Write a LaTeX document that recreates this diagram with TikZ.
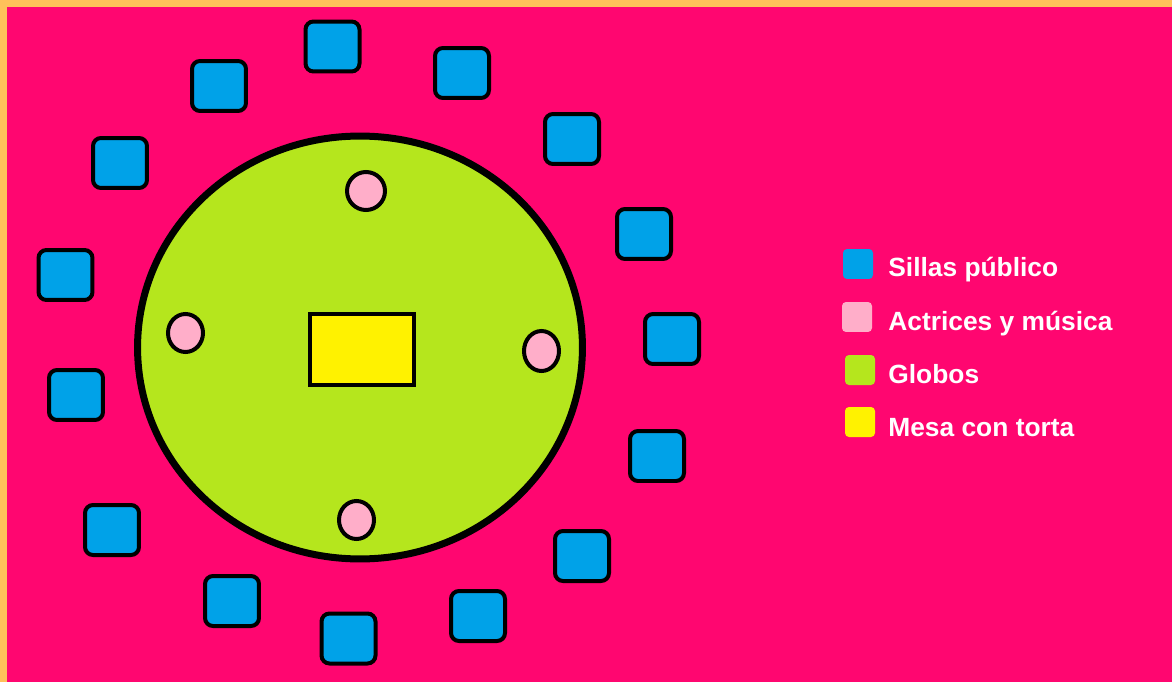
\documentclass[tikz,border=0pt]{standalone}
\usepackage{fontspec}
\setmainfont{Liberation Sans}
\usetikzlibrary{shapes.geometric}
\definecolor{FrameOrange}{RGB}{255,192,90}
\definecolor{PartyPink}{RGB}{255,6,112}
\definecolor{ChairBlue}{RGB}{0,162,232}
\definecolor{ActorPink}{RGB}{255,174,201}
\definecolor{BalloonGreen}{RGB}{181,230,29}
\definecolor{CakeYellow}{RGB}{255,242,0}
\tikzset{
  chair/.style={draw=black,fill=ChairBlue,line width=0.08cm,rounded corners=0.16cm,
    minimum width=1.08cm,minimum height=1.0cm,inner sep=0pt},
  actor/.style={ellipse,draw=black,fill=ActorPink,line width=0.08cm,
    inner sep=0pt},
  swatch/.style={rounded corners=0.08cm,minimum width=0.6cm,minimum height=0.6cm,
    inner sep=0pt},
  legendtext/.style={anchor=base west,text=white,inner sep=0pt,
    font=\fontsize{15}{18}\selectfont\bfseries}
}

\begin{document}
\begin{tikzpicture}[x=0.02cm,y=-0.02cm]

% Background and frame
\fill[FrameOrange] (0,0) rectangle (1172,682);
\fill[PartyPink] (7,7) rectangle (1172,682);
\useasboundingbox (0,0) rectangle (1172,682);

% Balloons area
\node[
  ellipse,
  draw=black,
  fill=BalloonGreen,
  line width=0.14cm,
  minimum width=8.9cm,
  minimum height=8.46cm,
  inner sep=0pt
] (globos) at (360,347.5) {};

% Cake table
\node[
  draw=black,
  fill=CakeYellow,
  line width=0.09cm,
  minimum width=2.08cm,
  minimum height=1.42cm,
  inner sep=0pt
] (mesa) at (362,349.5) {};

% Actresses and music
\foreach \x/\y/\w/\h [count=\i] in {366/191/0.76cm/0.76cm,185.5/333/0.7cm/0.76cm,
  541.5/351/0.7cm/0.8cm,356.5/520/0.7cm/0.76cm}{
  \node[actor,minimum width=\w,minimum height=\h] (actriz\i) at (\x,\y) {};
}

% Audience chairs
\foreach \x/\y [count=\i] in {332.5/46.5,219/86,462/73,120/163,572/139,644/234,
  65.5/275,672/339,76/395,657/456,112/530,582/556,232/601,478/616,348.5/638.5}{
  \node[chair] (silla\i) at (\x,\y) {};
}

% Legend
\foreach \x/\y/\c [count=\i] in {858/264/ChairBlue,857/317/ActorPink,
  860/370/BalloonGreen,860/422/CakeYellow}{
  \node[swatch,fill=\c] (muestra\i) at (\x,\y) {};
}
\node[legendtext] (texto1) at (888,276) {Sillas público};
\node[legendtext] (texto2) at (888,330) {Actrices y música};
\node[legendtext] (texto3) at (888,383) {Globos};
\node[legendtext] (texto4) at (888,436) {Mesa con torta};

\end{tikzpicture}
\end{document}
